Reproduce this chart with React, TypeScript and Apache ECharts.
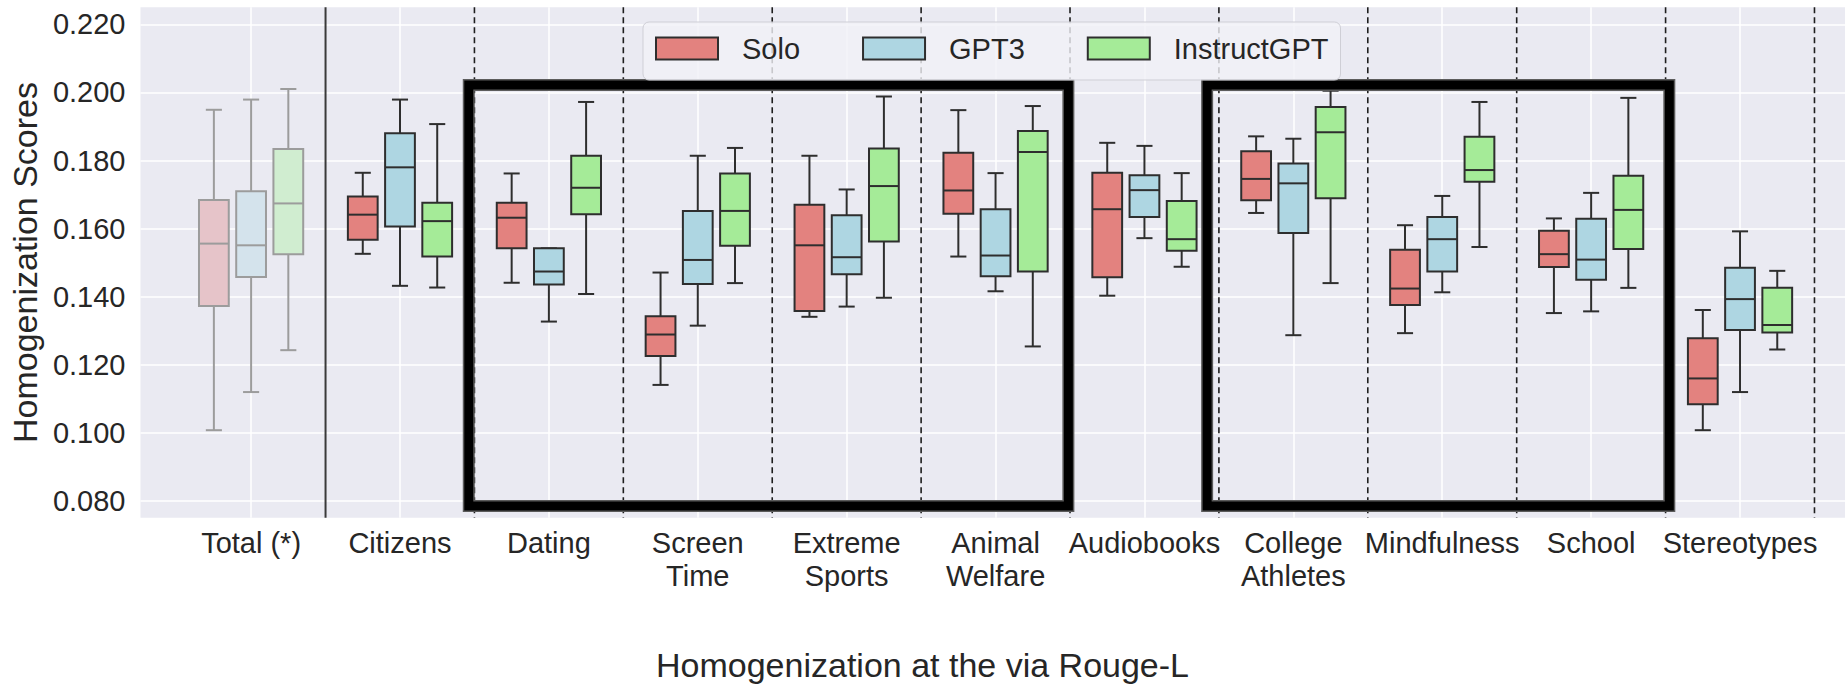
import React, { useEffect, useRef } from "react";
import * as echarts from "echarts";

const CATEGORIES = [
  "Total (*)",
  "Citizens",
  "Dating",
  "Screen\nTime",
  "Extreme\nSports",
  "Animal\nWelfare",
  "Audiobooks",
  "College\nAthletes",
  "Mindfulness",
  "School",
  "Stereotypes",
];

const SERIES_NAMES = ["Solo", "GPT3", "InstructGPT"];

// [lower whisker, Q1, median, Q3, upper whisker] per category
const SOLO = [
  [0.1008, 0.1373, 0.1556, 0.1684, 0.1949],
  [0.1526, 0.1567, 0.1641, 0.1694, 0.1764],
  [0.1441, 0.1542, 0.1632, 0.1676, 0.1762],
  [0.1141, 0.1226, 0.1289, 0.1343, 0.1471],
  [0.1341, 0.1358, 0.1551, 0.167, 0.1814],
  [0.1518, 0.1644, 0.1712, 0.1823, 0.1948],
  [0.1403, 0.1457, 0.1657, 0.1764, 0.1852],
  [0.1646, 0.1683, 0.1746, 0.1827, 0.1871],
  [0.1293, 0.1376, 0.1424, 0.1538, 0.161],
  [0.1352, 0.1487, 0.1525, 0.1594, 0.163],
  [0.1008, 0.1084, 0.116, 0.1278, 0.1361],
];

const GPT3 = [
  [0.112, 0.1458, 0.1551, 0.171, 0.1979],
  [0.1432, 0.1606, 0.178, 0.188, 0.1979],
  [0.1327, 0.1436, 0.1474, 0.1542, 0.1542],
  [0.1315, 0.1437, 0.1508, 0.1652, 0.1814],
  [0.1371, 0.1466, 0.1516, 0.1639, 0.1715],
  [0.1416, 0.146, 0.1521, 0.1657, 0.1763],
  [0.1572, 0.1634, 0.1713, 0.1757, 0.1843],
  [0.1287, 0.1587, 0.1733, 0.1791, 0.1864],
  [0.1413, 0.1474, 0.1569, 0.1634, 0.1696],
  [0.1357, 0.145, 0.1509, 0.1629, 0.1705],
  [0.112, 0.1302, 0.1393, 0.1485, 0.1592],
];

const INSTRUCT = [
  [0.1243, 0.1525, 0.1674, 0.1834, 0.201],
  [0.1427, 0.1518, 0.1622, 0.1676, 0.1907],
  [0.1408, 0.1642, 0.172, 0.1814, 0.1972],
  [0.144, 0.155, 0.1652, 0.1762, 0.1837],
  [0.1397, 0.1562, 0.1725, 0.1835, 0.1988],
  [0.1254, 0.1474, 0.1825, 0.1887, 0.196],
  [0.1488, 0.1535, 0.1569, 0.1681, 0.1763],
  [0.144, 0.1689, 0.1883, 0.1957, 0.2005],
  [0.1546, 0.1738, 0.1772, 0.187, 0.1972],
  [0.1426, 0.154, 0.1655, 0.1755, 0.1984],
  [0.1245, 0.1295, 0.1317, 0.1426, 0.1476],
];

const Y_TICKS = [0.08, 0.1, 0.12, 0.14, 0.16, 0.18, 0.2, 0.22];

// highlighted groups: [x from, x to, y bottom, y top] in data units
const HIGHLIGHT_BOXES = [
  [1.462, 5.489, 0.0785, 0.2022],
  [6.421, 9.525, 0.0785, 0.2022],
];

const TITLE = "Homogenization at the via Rouge-L";
const Y_NAME = "Homogenization Scores";

const FONT = "'Liberation Sans', Arial, Helvetica, sans-serif";
const TEXT_COLOR = "#262626";
const EDGE = "#2e2e2e";
const FILLS = ["#E3827F", "#AED6E2", "#A5EB98"];
const FADED_FILLS = ["#E6C4C9", "#D4E3EC", "#D0EDD0"];
const FADED_EDGE = "#9c9c9c";
const OFFSETS = [-0.25, 0, 0.25];
const BOX_HALF = 0.1;
const CAP_HALF = 0.054;
const X_MIN = -0.743;
const X_MAX = 10.705;
const Y_MIN = 0.0751;
const Y_MAX = 0.225;

function boxRenderer(seriesIdx: number) {
  return (params: any, api: any) => {
    const cat = api.value(0);
    const wlo = api.value(1);
    const q1 = api.value(2);
    const med = api.value(3);
    const q3 = api.value(4);
    const whi = api.value(5);
    const xc = cat + OFFSETS[seriesIdx];
    const faded = cat === 0;
    const fill = faded ? FADED_FILLS[seriesIdx] : FILLS[seriesIdx];
    const edge = faded ? FADED_EDGE : EDGE;
    const cx = api.coord([xc, med])[0];
    const xl = api.coord([xc - BOX_HALF, med])[0];
    const xr = api.coord([xc + BOX_HALF, med])[0];
    const capL = api.coord([xc - CAP_HALF, med])[0];
    const capR = api.coord([xc + CAP_HALF, med])[0];
    const yWlo = api.coord([xc, wlo])[1];
    const yQ1 = api.coord([xc, q1])[1];
    const yMed = api.coord([xc, med])[1];
    const yQ3 = api.coord([xc, q3])[1];
    const yWhi = api.coord([xc, whi])[1];
    const lineStyle = { stroke: edge, lineWidth: 2, fill: null };
    return {
      type: "group",
      children: [
        { type: "line", shape: { x1: cx, y1: yQ3, x2: cx, y2: yWhi }, style: lineStyle },
        { type: "line", shape: { x1: cx, y1: yQ1, x2: cx, y2: yWlo }, style: lineStyle },
        { type: "line", shape: { x1: capL, y1: yWhi, x2: capR, y2: yWhi }, style: lineStyle },
        { type: "line", shape: { x1: capL, y1: yWlo, x2: capR, y2: yWlo }, style: lineStyle },
        {
          type: "rect",
          shape: { x: xl, y: yQ3, width: xr - xl, height: yQ1 - yQ3 },
          style: { fill, stroke: edge, lineWidth: 2 },
        },
        { type: "line", shape: { x1: xl, y1: yMed, x2: xr, y2: yMed }, style: lineStyle },
      ],
    };
  };
}

export default function App() {
  const ref = useRef<HTMLDivElement>(null);

  useEffect(() => {
    if (!ref.current) return;
    const chart = echarts.init(ref.current, null, { renderer: "svg" });
    const catIdx = CATEGORIES.map((_, i) => i);
    const allData = [SOLO, GPT3, INSTRUCT];

    const boxSeries = SERIES_NAMES.map((name, s) => ({
      name,
      type: "custom",
      z: 3,
      itemStyle: { color: FILLS[s], borderColor: EDGE, borderWidth: 2 },
      encode: { x: 0, y: [1, 2, 3, 4, 5] },
      data: allData[s].map((row, i) => [i, ...row]),
      renderItem: boxRenderer(s),
    }));

    const option: any = {
      animation: false,
      backgroundColor: "#ffffff",
      textStyle: { fontFamily: FONT },
      title: {
        text: TITLE,
        left: "center",
        top: 643,
        textStyle: { fontFamily: FONT, fontSize: 34, fontWeight: "normal", color: TEXT_COLOR },
      },
      legend: {
        left: 643,
        top: 22,
        padding: [12, 12, 17, 12],
        itemWidth: 62,
        itemHeight: 22,
        itemGap: 62,
        backgroundColor: "rgba(241,241,246,0.8)",
        borderColor: "#cfcfd6",
        borderWidth: 1,
        borderRadius: 6,
        icon: "rect",
        textStyle: {
          fontFamily: FONT,
          fontSize: 29,
          color: TEXT_COLOR,
          lineHeight: 24,
          padding: [0, 0, 0, 19],
        },
        data: SERIES_NAMES.map((name, s) => ({
          name,
          icon: "rect",
          itemStyle: { color: FILLS[s], borderColor: EDGE, borderWidth: 2 },
        })),
      },
      grid: {
        left: 139,
        right: 0,
        top: 7.3,
        bottom: 168.3,
        show: true,
        backgroundColor: "#EAEAF2",
        borderWidth: 0,
      },
      xAxis: {
        type: "value",
        min: X_MIN,
        max: X_MAX,
        axisLine: { show: false },
        axisTick: { show: false, customValues: catIdx },
        splitLine: { show: true, lineStyle: { color: "#ffffff", width: 1.5 } },
        axisLabel: {
          customValues: catIdx,
          formatter: (v: number) => CATEGORIES[Math.round(v)],
          fontFamily: FONT,
          fontSize: 29,
          lineHeight: 33,
          color: TEXT_COLOR,
          margin: 9,
        },
      },
      yAxis: {
        type: "value",
        min: Y_MIN,
        max: Y_MAX,
        name: Y_NAME,
        nameLocation: "middle",
        nameGap: 92,
        nameTextStyle: { fontFamily: FONT, fontSize: 34, color: TEXT_COLOR },
        axisLine: { show: false },
        axisTick: { show: false, customValues: Y_TICKS },
        splitLine: { show: true, lineStyle: { color: "#ffffff", width: 1.5 } },
        axisLabel: {
          customValues: Y_TICKS,
          formatter: (v: number) => v.toFixed(3),
          fontFamily: FONT,
          fontSize: 29,
          color: TEXT_COLOR,
          margin: 15,
        },
      },
      series: [
        {
          name: "separators",
          type: "custom",
          z: 2,
          silent: true,
          encode: { x: 0 },
          data: CATEGORIES.map((_, i) => [i + 0.5]),
          renderItem: (params: any, api: any) => {
            const x = api.value(0);
            const p0 = api.coord([x, Y_MAX]);
            const p1 = api.coord([x, Y_MIN]);
            const solid = params.dataIndex === 0;
            return {
              type: "line",
              shape: { x1: p0[0], y1: p0[1], x2: p1[0], y2: p1[1] },
              style: {
                stroke: solid ? "#3a3a3a" : "#1e1e1e",
                lineWidth: solid ? 2 : 1.6,
                lineDash: solid ? null : [6, 4],
              },
            };
          },
        },
        ...boxSeries,
        {
          name: "highlights",
          type: "custom",
          z: 3,
          silent: true,
          encode: { x: [0, 1], y: [2, 3] },
          data: HIGHLIGHT_BOXES,
          renderItem: (params: any, api: any) => {
            const a = api.coord([api.value(0), api.value(3)]);
            const b = api.coord([api.value(1), api.value(2)]);
            const shape = { x: a[0], y: a[1], width: b[0] - a[0], height: b[1] - a[1] };
            return {
              type: "group",
              children: [
                { type: "rect", shape, style: { fill: null, stroke: "#5c5c5c", lineWidth: 12 } },
                { type: "rect", shape, style: { fill: null, stroke: "#000000", lineWidth: 9 } },
              ],
            };
          },
        },
      ],
    };

    chart.setOption(option);
    return () => chart.dispose();
  }, []);

  return (
    <div
      ref={ref}
      style={{ position: "fixed", left: 0, top: 0, width: 1845, height: 686 }}
    />
  );
}
